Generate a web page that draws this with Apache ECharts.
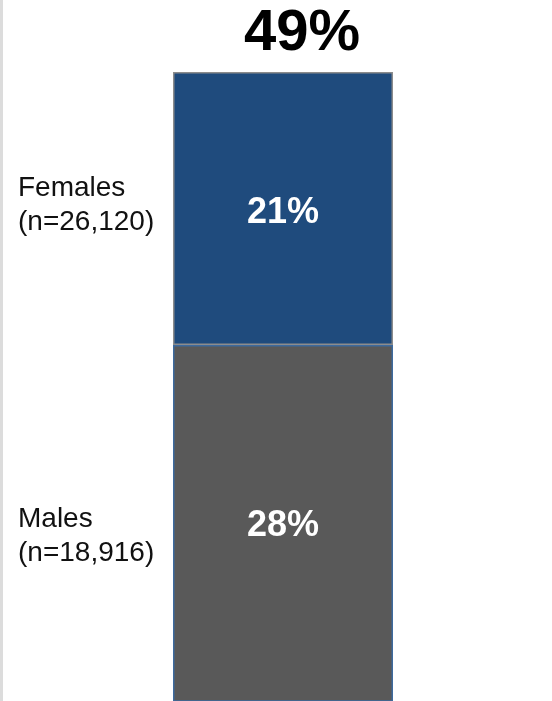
<!DOCTYPE html>
<html>
<head>
<meta charset="utf-8">
<script src="https://cdn.jsdelivr.net/npm/echarts@6/dist/echarts.min.js"></script>
<style>
html,body{margin:0;padding:0;background:#fff;}
#wrap{position:relative;width:552px;height:701px;overflow:hidden;}
#stripe{position:absolute;left:0;top:0;width:3px;height:701px;background:#dcdcdc;}
#chart{position:absolute;left:0;top:0;width:552px;height:701px;}
</style>
</head>
<body>
<div id="wrap"><div id="chart"></div><div id="stripe"></div></div>
<script>
const categories = ['All'];
const seriesNames = ['Males', 'Females'];
const malesValues = [28];
const femalesValues = [21];
const groupLabels = {
  Females: ['Females', '(n=26,120)'],
  Males: ['Males', '(n=18,916)']
};
// the picture is cropped: the bottom of the Males bar runs off the canvas
const axisMin = 0.62;
const axisMax = 49;

const totals = categories.map((c, i) => malesValues[i] + femalesValues[i]);
const chart = echarts.init(document.getElementById('chart'), null, {renderer: 'canvas'});

const insideLabel = {
  show: true,
  position: 'inside',
  formatter: p => p.value + '%',
  color: '#ffffff',
  fontFamily: 'Liberation Sans, Arial, sans-serif',
  fontWeight: 'bold',
  fontSize: 36
};

chart.setOption({
  animation: false,
  grid: {left: 173, width: 220, top: 72, bottom: 0, containLabel: false},
  xAxis: {type: 'category', data: categories, show: false},
  yAxis: {type: 'value', min: axisMin, max: axisMax, show: false},
  series: [
    {
      name: 'Males', type: 'bar', stack: 'a', data: malesValues,
      barCategoryGap: '0%',
      itemStyle: {color: '#595959', borderColor: '#3d6a9e', borderWidth: 1.5},
      label: Object.assign({}, insideLabel, {offset: [0, 3]})
    },
    {
      name: 'Females', type: 'bar', stack: 'a', data: femalesValues,
      barCategoryGap: '0%',
      itemStyle: {color: '#1f4b7d', borderColor: '#8c8c8c', borderWidth: 1.5},
      label: Object.assign({}, insideLabel, {offset: [0, 5]})
    },
    {
      name: 'Total', type: 'bar', stack: 'a', data: totals.map(() => 0),
      barCategoryGap: '0%',
      itemStyle: {color: 'transparent', borderWidth: 0},
      label: {
        show: true, position: 'top', distance: 9, offset: [19, 0],
        formatter: p => totals[p.dataIndex] + '%',
        color: '#000000',
        fontFamily: 'Liberation Sans, Arial, sans-serif',
        fontWeight: 'bold', fontSize: 58
      }
    }
  ]
});

// Left-side group labels, placed relative to each segment's middle
const cat = categories[0];
const fMid = chart.convertToPixel({gridIndex: 0}, [cat, malesValues[0] + femalesValues[0] / 2])[1];
const mMid = chart.convertToPixel({gridIndex: 0}, [cat, malesValues[0] / 2])[1];
function labelGroup(lines, cy) {
  return {
    type: 'text', left: 18, top: cy - 34,
    style: {
      text: lines.join('\n'),
      fill: '#111111',
      font: '28px "Liberation Sans", Arial, sans-serif',
      lineHeight: 34
    }
  };
}
chart.setOption({
  graphic: [
    labelGroup(groupLabels.Females, fMid - 3),
    labelGroup(groupLabels.Males, mMid + 9)
  ]
});
</script>
</body>
</html>
